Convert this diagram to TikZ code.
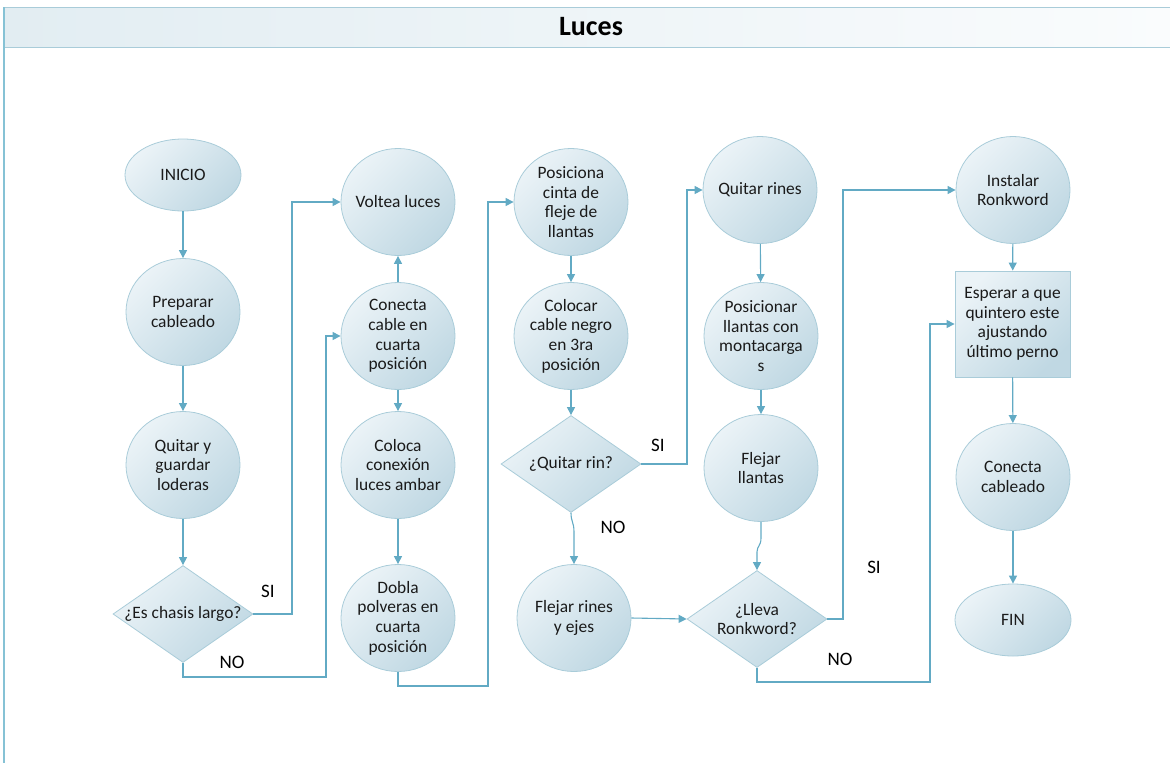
\documentclass[tikz,border=0pt]{standalone}
\usepackage{fontspec}
\setmainfont{Carlito}
\usetikzlibrary{shapes.geometric,arrows.meta}

\definecolor{edge}{HTML}{A9CCD9}
\definecolor{fillA}{HTML}{EBF3F7}
\definecolor{fillB}{HTML}{C0D8E3}
\definecolor{wire}{HTML}{62AAC4}
\definecolor{ink}{HTML}{1A1A1A}
\definecolor{barL}{HTML}{E2EDF2}
\definecolor{barM}{HTML}{BDD6E1}
\definecolor{barR}{HTML}{FAFCFD}
\definecolor{frame}{HTML}{86C2D5}

\tikzset{
  shapebase/.style={draw=edge, line width=0.8pt, top color=fillA, bottom color=fillB,
                    shading angle=45, inner sep=0pt},
  proc/.style={shapebase, ellipse, minimum width=114pt, minimum height=107pt},
  term/.style={shapebase, ellipse, minimum width=116pt, minimum height=72pt},
  dec/.style={shapebase, diamond, minimum width=140pt, minimum height=97pt},
  waitbox/.style={shapebase, rectangle, minimum width=115pt, minimum height=106pt},
  txt/.style={font=\fontsize{17.4}{19.6}\selectfont, align=center, text=ink},
  conn/.style={draw=wire, line width=1.1pt, -{Triangle[length=8pt,width=8pt]}},
  lbl/.style={font=\fontsize{19}{22}\selectfont, text=black, inner sep=0pt}
}

\begin{document}
\begin{tikzpicture}[x=1pt, y=-1pt]
\useasboundingbox (0,0) rectangle (1170,763);

% swimlane header and frame
\shade[left color=barL, middle color=barM, right color=barR] (3,7) rectangle (1170,47);
\draw[edge, line width=1pt] (3,7) -- (1170,7);
\draw[edge, line width=1pt] (3,47) -- (1170,47);
\draw[frame, line width=1.6pt] (4,7) -- (4,763);
\node[font=\fontsize{28}{32}\bfseries\selectfont, text=black] (title) at (591,27) {Luces};

% column 1
\node[term, label={[txt]center:INICIO}] (inicio) at (183,175) {};
\node[proc, label={[txt]center:Preparar\\cableado}] (prep) at (183,312) {};
\node[proc, label={[txt]center:Quitar y\\guardar\\loderas}] (loderas) at (183,465) {};
\node[dec, label={[txt]center:¿Es chasis largo?}] (chasis) at (183,614) {};

% column 2
\node[proc, label={[txt]center:Voltea luces}] (voltea) at (398,202) {};
\node[proc, label={[txt]center:Conecta\\cable en\\cuarta\\posición}] (conecta) at (398,336) {};
\node[proc, label={[txt]center:Coloca\\conexión\\luces ambar}] (coloca) at (398,465) {};
\node[proc, label={[txt]center:Dobla\\polveras en\\cuarta\\posición}] (dobla) at (398,618) {};

% column 3
\node[proc, label={[txt]center:Posiciona\\cinta de\\fleje de\\llantas}] (posiciona) at (571,202) {};
\node[proc, label={[txt]center:Colocar\\cable negro\\en 3ra\\posición}] (negro) at (571,336) {};
\node[dec, label={[txt]center:¿Quitar rin?}] (rin) at (571,464) {};
\node[proc, label={[txt]center:Flejar rines\\y ejes}] (rines) at (574,618) {};

% column 4
\node[proc, label={[txt]center:Quitar rines}] (quitar) at (760,190) {};
\node[proc, label={[txt]center:Posicionar\\llantas con\\montacarga\\s}] (montacargas) at (761,336) {};
\node[proc, label={[txt]center:Flejar\\llantas}] (flejar) at (761,468) {};
\node[dec, label={[txt]center:¿Lleva\\Ronkword?}] (lleva) at (757,619) {};

% column 5
\node[proc, label={[txt]center:Instalar\\Ronkword}] (instalar) at (1013,190) {};
\node[waitbox, label={[txt]center:Esperar a que\\quintero este\\ajustando\\último perno}] (esperar) at (1012.5,324) {};
\node[proc, label={[txt]center:Conecta\\cableado}] (cableado) at (1013,477) {};
\node[term, label={[txt]center:FIN}] (fin) at (1013,620) {};

% straight flow
\draw[conn] (inicio) -- (prep);
\draw[conn] (prep) -- (loderas);
\draw[conn] (loderas) -- (chasis);
\draw[conn] (conecta) -- (voltea);
\draw[conn] (conecta) -- (coloca);
\draw[conn] (coloca) -- (dobla);
\draw[conn] (posiciona) -- (negro);
\draw[conn] (negro) -- (rin);
\draw[conn] (rines.east) -- (lleva.west);
\draw[conn] (quitar) -- (montacargas);
\draw[conn] (montacargas) -- (flejar);
\draw[conn] (instalar) -- (esperar);
\draw[conn] (esperar) -- (cableado);
\draw[conn] (cableado) -- (fin);

% slightly offset verticals
\draw[conn] (rin.south) .. controls (571,522) and (574,522) .. (574,532) -- (rines.north);
\draw[conn] (flejar.south) -- (761,538) .. controls (761,546) and (757,546) .. (757,552) -- (lleva.north);

% branches
\draw[conn] (chasis.east) -- (292,614) |- (voltea.west);
\draw[conn] (chasis.south) |- (326,677) |- (conecta.west);
\draw[conn] (dobla.south) |- (488,686) |- (posiciona.west);
\draw[conn] (rin.east) -- (687,464) |- (quitar.west);
\draw[conn] (lleva.east) -- (843,619) |- (instalar.west);
\draw[conn] (lleva.south) |- (930,682) |- (esperar.west);

% branch labels
\node[lbl] (si1) at (268,591) {SI};
\node[lbl] (no1) at (232,662) {NO};
\node[lbl] (si2) at (658,445) {SI};
\node[lbl] (no2) at (613,527) {NO};
\node[lbl] (si3) at (874,567) {SI};
\node[lbl] (no3) at (840,659) {NO};
\end{tikzpicture}
\end{document}
